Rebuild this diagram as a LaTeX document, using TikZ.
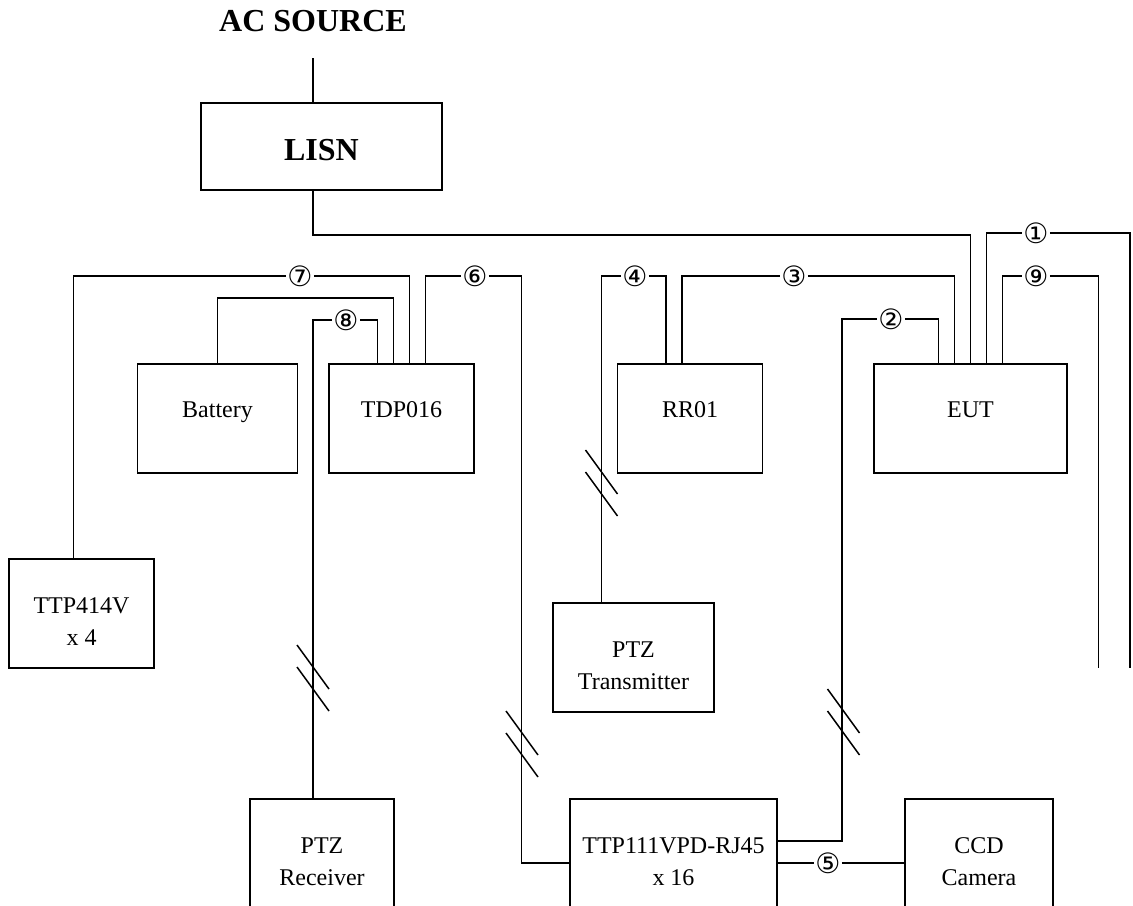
\documentclass[tikz,border=0pt]{standalone}
\usepackage{fontspec}
\setmainfont{Liberation Serif}
\newfontfamily\circfont{DejaVu Sans}

\begin{document}
\begin{tikzpicture}[x=0.5pt,y=-0.5pt,
    box/.style={draw, line width=0.9pt, anchor=north, inner ysep=0pt,
        text height=27pt, text depth=27.5pt, font=\fontsize{12}{16}\selectfont},
    twoline/.style={text height=35pt, text depth=19.5pt},
    num/.style={fill=white, inner sep=0.4pt, font=\circfont\fontsize{14}{16}\selectfont},
    wire/.style={line width=0.75pt}]
    \useasboundingbox (0,0) rectangle (1133,905);

    \node[font=\bfseries\fontsize{16}{19}\selectfont] (ac) at (313,21) {AC SOURCE};
    \node[box, text height=28.8pt, text depth=14.7pt, minimum width=120.5pt,
        font=\bfseries\fontsize{16}{19}\selectfont] (lisn) at (321.5,102) {LISN};

    \node[box, minimum width=80pt] (bat) at (217.5,363) {Battery};
    \node[box, minimum width=72.5pt] (tdp) at (401.5,363) {TDP016};
    \node[box, minimum width=72.5pt] (rr) at (690,363) {RR01};
    \node[box, minimum width=96.5pt] (eut) at (970.5,363) {EUT};
    \node[box, twoline, minimum width=72.5pt] (ttp4) at (81.5,558)
        {\begin{tabular}{@{}c@{}}TTP414V\\x 4\end{tabular}};
    \node[box, twoline, minimum width=80.5pt] (ptzt) at (633.5,602)
        {\begin{tabular}{@{}c@{}}PTZ\\Transmitter\end{tabular}};
    \node[box, twoline, minimum width=72pt] (ptzr) at (322,798)
        {\begin{tabular}{@{}c@{}}PTZ\\Receiver\end{tabular}};
    \node[box, twoline, minimum width=103.5pt] (hub) at (673.5,798)
        {\begin{tabular}{@{}c@{}}TTP111VPD-RJ45\\x 16\end{tabular}};
    \node[box, twoline, minimum width=73.8pt] (ccd) at (979,798)
        {\begin{tabular}{@{}c@{}}CCD\\Camera\end{tabular}};

    % cable numbers
    \node[num] (n1) at (1036,233) {①};
    \node[num] (n2) at (891,319) {②};
    \node[num] (n3) at (794,276) {③};
    \node[num] (n4) at (635,276) {④};
    \node[num] (n5) at (828,863) {⑤};
    \node[num] (n6) at (475,276) {⑥};
    \node[num] (n7) at (300,276) {⑦};
    \node[num] (n8) at (346,320) {⑧};
    \node[num] (n9) at (1036,276) {⑨};

    \coordinate (acin) at (313,58);
    \coordinate (c2) at (842,319);
    \coordinate (c6) at (521.5,863);
    \coordinate (e1) at (1130,668);
    \coordinate (e9) at (1098.5,668);

    \draw[wire] (acin) -- (acin |- lisn.north);
    \draw[wire] (acin |- lisn.south) -- ++(0,44) -| (eut.north);
    \draw[wire] ([xshift=8pt]eut.north) |- (n1) -| (e1);
    \draw[wire] ([yshift=-21.5pt]hub.north east) -| (c2) -- (n2) -| ([xshift=-16pt]eut.north);
    \draw[wire] ([xshift=-4pt]rr.north) |- (n3) -| ([xshift=-8pt]eut.north);
    \draw[wire] ([xshift=-16pt]ptzt.north) |- (n4) -| ([xshift=-12pt]rr.north);
    \draw[wire] ([yshift=-32.5pt]hub.north east) -- (n5) -- (n5 -| ccd.west);
    \draw[wire] ([xshift=12pt]tdp.north) |- (n6) -| (c6) -- (c6 -| hub.west);
    \draw[wire] ([xshift=-4pt]ttp4.north) |- (n7) -| ([xshift=4pt]tdp.north);
    \draw[wire] (bat.north) -- ++(0,-65) -| ([xshift=-4pt]tdp.north);
    \draw[wire] ([xshift=-4.5pt]ptzr.north) |- (n8) -| ([xshift=-12pt]tdp.north);
    \draw[wire] ([xshift=16pt]eut.north) |- (n9) -| (e9);

    % cable breaks
    \foreach \c in {(313,678),(601.5,483),(522,744),(843.5,722)}
        \draw[wire] \c ++(-16,-33) -- ++(32,44) \c ++(-16,-11) -- ++(32,44);
\end{tikzpicture}
\end{document}
